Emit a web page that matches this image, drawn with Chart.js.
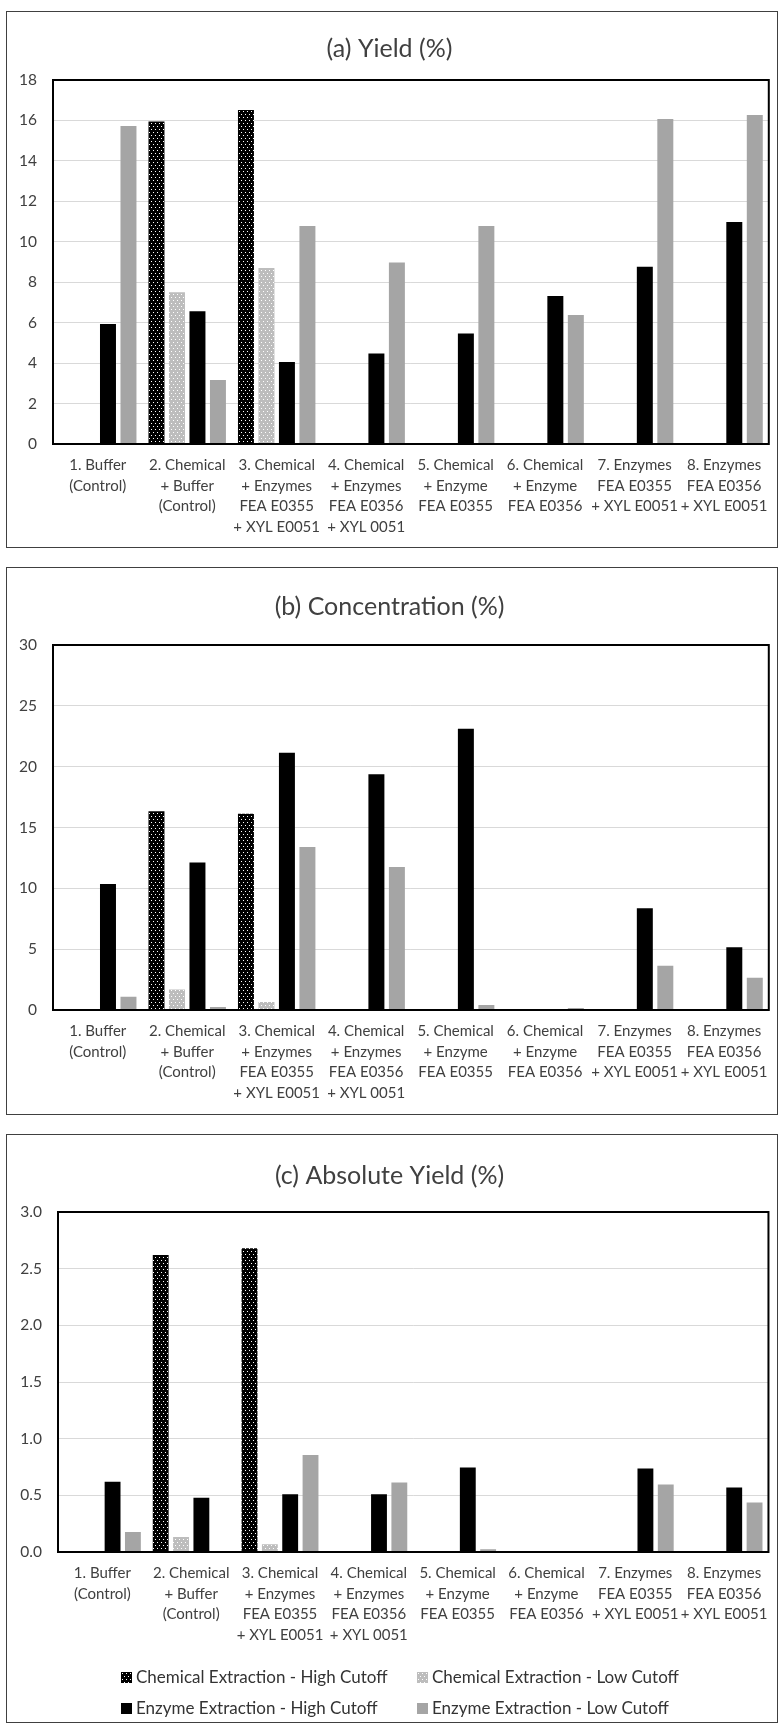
<!DOCTYPE html>
<html>
<head>
<meta charset="utf-8">
<script src="https://cdn.jsdelivr.net/npm/chart.js@4.4.1/dist/chart.umd.min.js"></script>
<style>
html,body{margin:0;padding:0;background:#fff;}
body{width:779px;height:1726px;position:relative;overflow:hidden;font-family:Lato,"Open Sans",sans-serif;}
.panel{position:absolute;left:6px;width:772px;border:1px solid #404040;box-sizing:border-box;}
canvas.cv{position:absolute;left:0;}
.lg{position:absolute;font-family:Lato,sans-serif;font-size:17px;color:#333333;white-space:nowrap;line-height:20px;height:20px;}
.lg canvas{position:absolute;left:0;top:5px;}
.lg span{position:absolute;left:15px;top:0;}
</style>
</head>
<body>
<div class="panel" style="top:11px;height:537px;"></div>
<div class="panel" style="top:567px;height:548px;"></div>
<div class="panel" style="top:1134px;height:589px;"></div>
<canvas id="ca" class="cv" width="779" height="537" style="top:11px;"></canvas>
<canvas id="cb" class="cv" width="779" height="543" style="top:572px;"></canvas>
<canvas id="cc" class="cv" width="779" height="584" style="top:1139px;"></canvas>
<div id="legend"></div>
<script>
// ---------- data ----------
const categories = [
  ["1. Buffer", "(Control)"],
  ["2. Chemical", "+ Buffer", "(Control)"],
  ["3. Chemical", "+ Enzymes", "FEA E0355", "+ XYL E0051"],
  ["4. Chemical", "+ Enzymes", "FEA E0356", "+ XYL 0051"],
  ["5. Chemical", "+ Enzyme", "FEA E0355"],
  ["6. Chemical", "+ Enzyme", "FEA E0356"],
  ["7. Enzymes", "FEA E0355", "+ XYL E0051"],
  ["8. Enzymes", "FEA E0356", "+ XYL E0051"]
];
const seriesNames = [
  "Chemical Extraction - High Cutoff",
  "Chemical Extraction - Low Cutoff",
  "Enzyme Extraction - High Cutoff",
  "Enzyme Extraction - Low Cutoff"
];
const titleA = "(a) Yield (%)";
const titleB = "(b) Concentration (%)";
const titleC = "(c) Absolute Yield (%)";

// (a) Yield
const yieldChemHigh = [null, 15.95, 16.52, null, null, null, null, null];
const yieldChemLow  = [null, 7.5, 8.7, null, null, null, null, null];
const yieldEnzHigh  = [5.93, 6.56, 4.06, 4.48, 5.46, 7.32, 8.76, 10.98];
const yieldEnzLow   = [15.73, 3.17, 10.78, 8.98, 10.78, 6.38, 16.07, 16.27];
// (b) Concentration
const concChemHigh = [null, 16.34, 16.12, null, null, null, null, null];
const concChemLow  = [null, 1.69, 0.66, null, null, null, null, null];
const concEnzHigh  = [10.35, 12.12, 21.15, 19.37, 23.12, null, 8.37, 5.15];
const concEnzLow   = [1.08, 0.25, 13.4, 11.75, 0.41, 0.16, 3.64, 2.65];
// (c) Absolute Yield
const absChemHigh = [null, 2.62, 2.68, null, null, null, null, null];
const absChemLow  = [null, 0.133, 0.068, null, null, null, null, null];
const absEnzHigh  = [0.62, 0.478, 0.51, 0.51, 0.746, null, 0.737, 0.569];
const absEnzLow   = [0.177, null, 0.856, 0.613, 0.024, null, 0.596, 0.436];

const yTicksA = ["0","2","4","6","8","10","12","14","16","18"];
const yTicksB = ["0","5","10","15","20","25","30"];
const yTicksC = ["0.0","0.5","1.0","1.5","2.0","2.5","3.0"];

// ---------- styles ----------
const FONT = "Lato";
const TXT = "#404040";
function dotTile(bg){
  const c = document.createElement('canvas');
  c.width = 4; c.height = 6;
  const g = c.getContext('2d');
  g.fillStyle = bg; g.fillRect(0,0,4,6);
  g.fillStyle = '#ffffff';
  g.fillRect(1,1,1,1);
  g.fillRect(3,4,1,1);
  return c;
}
function dotPattern(ctx, bg){ return ctx.createPattern(dotTile(bg),'repeat'); }
const helperCtx = document.createElement('canvas').getContext('2d');
const fills = [dotPattern(helperCtx,'#000000'), dotPattern(helperCtx,'#bdbdbd'), '#000000', '#a5a5a5'];

const plotBorder = {
  id:'plotBorder',
  afterDatasetsDraw(chart){
    const {ctx, chartArea:a} = chart;
    ctx.save();
    ctx.strokeStyle = '#000';
    ctx.lineWidth = 2;
    ctx.strokeRect(a.left, a.top, a.right-a.left, a.bottom-a.top);
    ctx.restore();
  }
};

function makeChart(id, title, series, yMax, step, yTicks, cfg){
  const datasets = series.map((d,i)=>({
    label: seriesNames[i],
    data: d,
    backgroundColor: fills[i],
    borderWidth: 0,
    categoryPercentage: 0.916,
    barPercentage: 0.78
  }));
  return new Chart(document.getElementById(id), {
    type:'bar',
    data:{labels:categories, datasets},
    plugins:[plotBorder],
    options:{
      responsive:false,
      animation:false,
      layout:{padding:{left:10,right:10,top:0,bottom:cfg.padBottom}},
      plugins:{
        legend:{display:false},
        tooltip:{enabled:false},
        title:{display:true,text:title,color:TXT,
          font:{family:FONT,size:25,weight:'normal',lineHeight:1.2},
          padding:{top:cfg.tTop,bottom:cfg.tBottom}}
      },
      scales:{
        x:{
          grid:{display:false,drawTicks:false},
          border:{display:false},
          ticks:{padding:11,maxRotation:0,minRotation:0,autoSkip:false,color:TXT,
            font:{family:FONT,size:15,lineHeight:1.367}},
          afterFit(s){ s.height = cfg.xH; }
        },
        y:{
          min:0,max:yMax,
          grid:{color:'#d9d9d9',lineWidth:1,drawTicks:false},
          border:{display:false},
          ticks:{stepSize:step,padding:16,color:TXT,font:{family:FONT,size:15.5},
            callback:(v,i)=>yTicks[i]},
          afterFit(s){ s.width = cfg.yW; }
        }
      }
    }
  });
}

// title: 25px * 1.2 = 30px box
makeChart('ca', titleA, [yieldChemHigh,yieldChemLow,yieldEnzHigh,yieldEnzLow], 18, 2, yTicksA,
  {padBottom:0, tTop:23, tBottom:16, xH:104, yW:43});
makeChart('cb', titleB, [concChemHigh,concChemLow,concEnzHigh,concEnzLow], 30, 5, yTicksB,
  {padBottom:0, tTop:20, tBottom:23, xH:105, yW:43});
makeChart('cc', titleC, [absChemHigh,absChemLow,absEnzHigh,absEnzLow], 3, 0.5, yTicksC,
  {padBottom:67, tTop:22, tBottom:21, xH:104, yW:48});

// ---------- legend ----------
const legendPos = [[121,1667],[417,1667],[121,1698],[417,1698]];
const legendFills = ['#000000','#bdbdbd','#000000','#a5a5a5'];
const lg = document.getElementById('legend');
seriesNames.forEach((name,i)=>{
  const d = document.createElement('div');
  d.className = 'lg';
  d.style.left = legendPos[i][0]+'px';
  d.style.top = legendPos[i][1]+'px';
  const sw = document.createElement('canvas');
  sw.width = 11; sw.height = 11;
  const g = sw.getContext('2d');
  g.fillStyle = i < 2 ? dotPattern(g, legendFills[i]) : legendFills[i];
  g.fillRect(0,0,11,11);
  const t = document.createElement('span');
  t.textContent = name;
  d.appendChild(sw); d.appendChild(t);
  lg.appendChild(d);
});
</script>
</body>
</html>
